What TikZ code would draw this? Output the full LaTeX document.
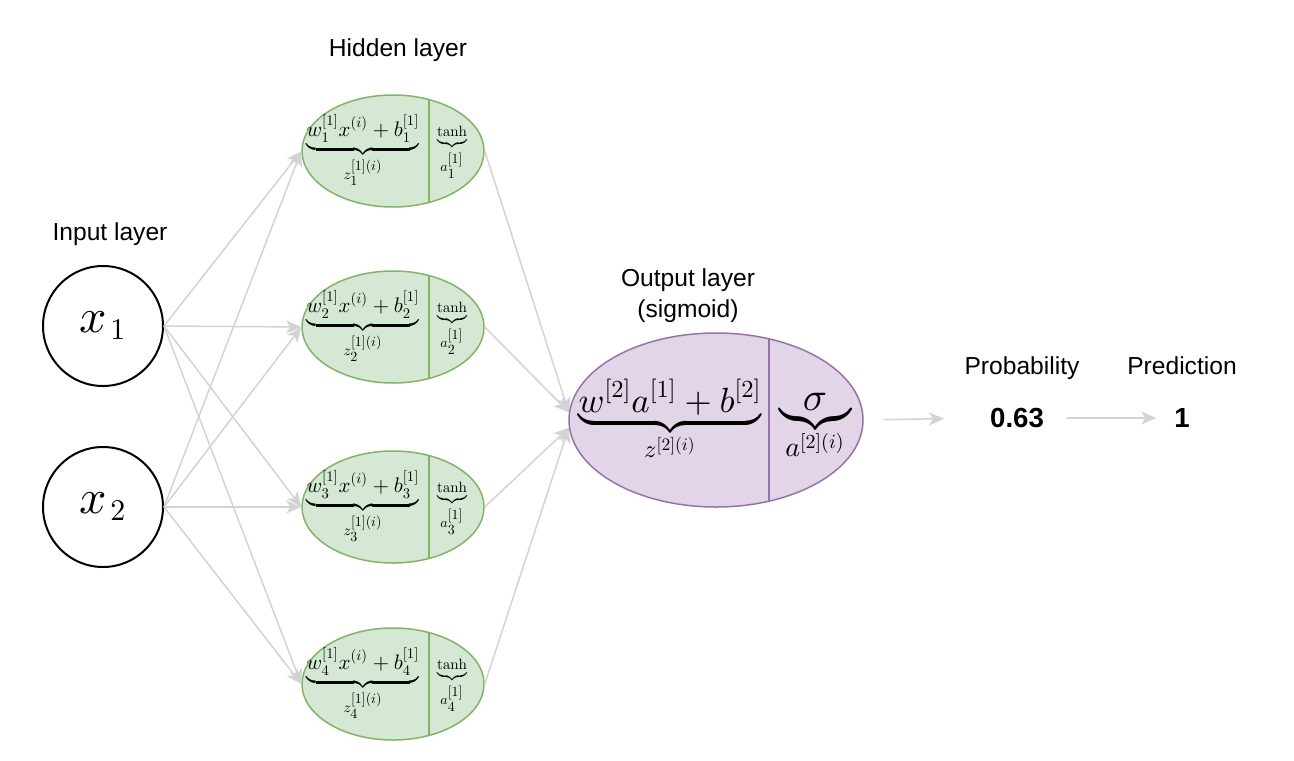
\documentclass[tikz,border=0pt]{standalone}
\usepackage{amsmath}
\usepackage{amssymb}
\usepackage[no-math]{fontspec}
\newfontfamily\lblfont{Liberation Sans}
\usetikzlibrary{positioning,shapes,calc,arrows.meta}

\DeclareFontShape{OML}{cmm}{m}{it}{<->cmmi10}{}
\DeclareFontShape{OT1}{cmr}{m}{n}{<->cmr10}{}
\DeclareFontShape{OMS}{cmsy}{m}{n}{<->cmsy10}{}
\DeclareFontShape{OMX}{cmex}{m}{n}{<->cmex10}{}
\DeclareMathSizes{10.5}{10.5}{7.35}{7}
\DeclareMathSizes{7.5}{7.5}{7}{7}
\DeclareMathSizes{24}{24}{15}{12}

\definecolor{hidfill}{HTML}{D5E8D4}
\definecolor{hiddraw}{HTML}{82B366}
\definecolor{outfill}{HTML}{E1D5E7}
\definecolor{outdraw}{HTML}{9673A6}
\definecolor{conncol}{HTML}{D3D3D3}

\begin{document}
\begin{tikzpicture}[x=0.5pt,y=-0.5pt]
      \tikzstyle{inp} = [draw,circle,fill=white,line width=1pt,minimum size=60pt,inner sep=0pt,font=\fontsize{24}{28}\selectfont]
      \tikzstyle{hid} = [draw=hiddraw,fill=hidfill,ellipse,line width=0.75pt,minimum width=91pt,minimum height=56pt,inner sep=0pt]
      \tikzstyle{outp} = [draw=outdraw,fill=outfill,ellipse,line width=0.75pt,minimum width=147pt,minimum height=87pt,inner sep=0pt]
      \tikzstyle{hidtxt} = [inner sep=0pt,font=\fontsize{10.5}{12}\selectfont]
      \tikzstyle{hidact} = [inner sep=0pt,font=\fontsize{7.5}{9}\selectfont]
      \tikzstyle{outtxt} = [inner sep=0pt,font=\fontsize{17.5}{20}\selectfont]
      \tikzstyle{outact} = [inner sep=0pt,font=\fontsize{20}{24}\selectfont]
      \tikzstyle{lbl} = [font=\lblfont\fontsize{12.3}{15.5}\selectfont,align=center]
      \tikzstyle{val} = [font=\lblfont\bfseries\fontsize{13.8}{16}\selectfont]
      \tikzstyle{conn} = [draw=conncol,line width=0.75pt,-{Stealth[length=7.5pt,width=6.5pt,inset=2pt]}]
      \useasboundingbox (0,0) rectangle (1294,760);
      % input layer
      \node[lbl] at (110,234) {Input layer};
      \node[inp] (x1) at (103,326) {$x_{\mkern2mu 1}$};
      \node[inp] (x2) at (103,507) {$x_{\mkern2mu 2}$};
      % hidden layer
      \node[lbl] at (398,50) {Hidden layer};
      \foreach \i/\y in {1/151,2/327,3/507,4/684}{
        \node[hid] (h\i) at (393,\y) {};
        \draw[hiddraw,line width=0.75pt] ($(h\i.center)+(36,-51)$) -- ($(h\i.center)+(36,51)$);
        \node[hidtxt] at ($(h\i.center)+(-30,0)$) {$\underbrace{w_\i^{[1]}x^{(i)}+b_\i^{[1]}}_{z_\i^{[1](i)}}$};
        \node[hidact] at ($(h\i.center)+(59,2)$) {$\underbrace{\tanh}_{a_\i^{[1]}}$};
      }
      % output layer
      \node[lbl] at (688,296) {Output layer\\(sigmoid)};
      \node[outp] (out) at (716,420) {};
      \draw[outdraw,line width=0.75pt] ($(out.center)+(53,-81)$) -- ($(out.center)+(53,81)$);
      \node[outtxt] at ($(out.center)+(-46,0)$) {$\underbrace{w^{[2]}a^{[1]}+b^{[2]}}_{z^{[2](i)}}$};
      \node[outact] at ($(out.center)+(99,7)$) {$\underbrace{\sigma}_{a^{[2](i)}}$};
      % result
      \node[lbl] at (1022,368) {Probability};
      \node[lbl] at (1182,366) {Prediction};
      \node[val] (prob) at (1017,418) {0.63};
      \node[val] (pred) at (1182,418) {1};
      % connections
      \foreach \a in {1,2}{
        \foreach \b in {1,2,...,4}{
          \draw[conn] (x\a.east) -- (h\b.west);
        }
      }
      \foreach \b in {1,2}{\draw[conn] (h\b.east) -- (out.177);}
      \foreach \b in {3,4}{\draw[conn] (h\b.east) -- (out.183);}
      \draw[conn,shorten <=10pt,shorten >=19.5pt] (out.east) -- (prob.west);
      \draw[conn,shorten <=8pt,shorten >=5.5pt] (prob.east) -- (pred.west);
    \end{tikzpicture}
\end{document}
